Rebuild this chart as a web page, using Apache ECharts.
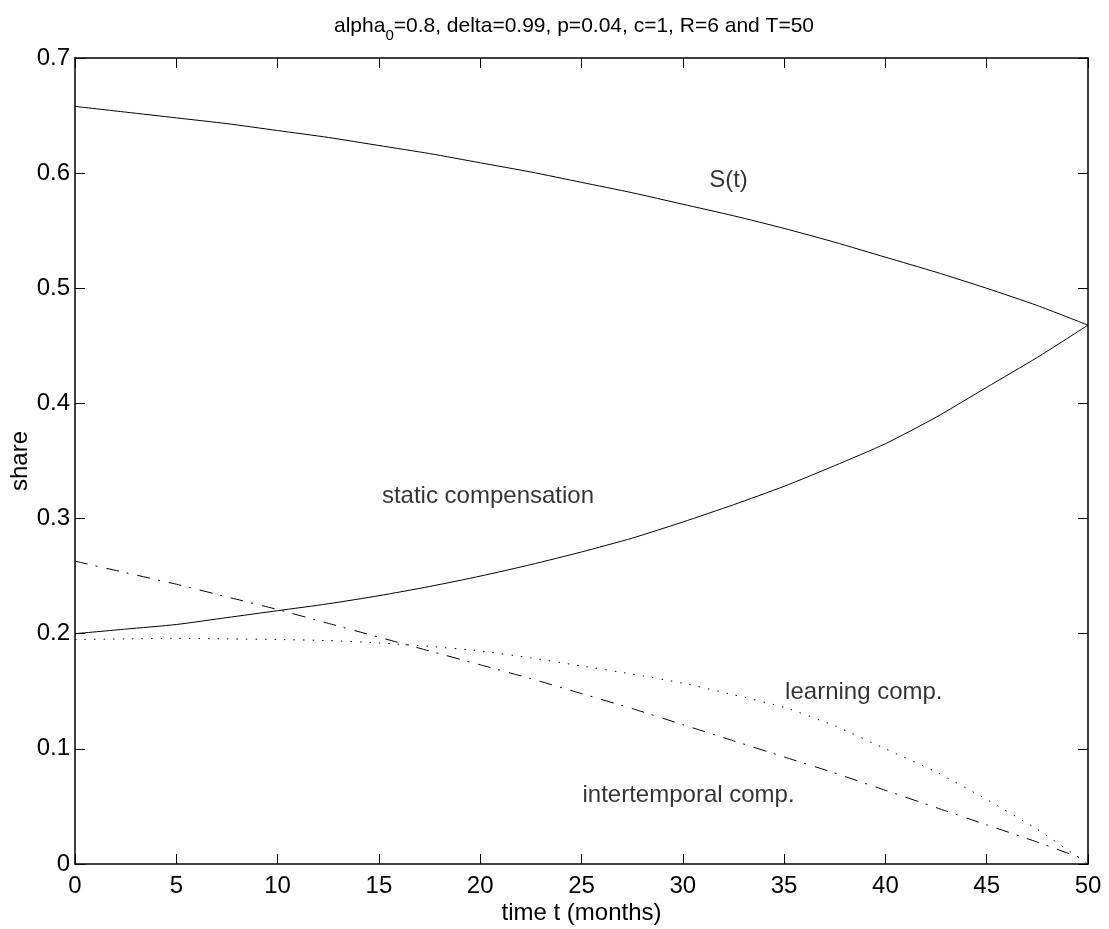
<!DOCTYPE html>
<html>
<head>
<meta charset="utf-8">
<script src="https://cdn.jsdelivr.net/npm/echarts@6/dist/echarts.min.js"></script>
<style>
html,body{margin:0;padding:0;background:#fff;}
#chart{width:1109px;height:929px;}
</style>
</head>
<body>
<div id="chart"></div>
<script>
// ---- data ----
const months = [0,2.5,5,7.5,10,12.5,15,17.5,20,22.5,25,27.5,30,32.5,35,37.5,40,42.5,45,47.5,50];
const shareS = [0.658,0.653,0.648,0.643,0.637,0.631,0.624,0.617,0.609,0.601,0.592,0.583,0.573,0.563,0.552,0.540,0.527,0.514,0.500,0.485,0.468];
const staticComp = [0.200,0.204,0.208,0.214,0.220,0.226,0.233,0.241,0.250,0.260,0.271,0.283,0.297,0.312,0.328,0.346,0.365,0.388,0.414,0.440,0.468];
const intertemporalComp = [0.263,0.253,0.243,0.232,0.221,0.209,0.197,0.185,0.173,0.161,0.148,0.135,0.121,0.107,0.093,0.079,0.064,0.049,0.034,0.019,0.003];
const learningComp = [0.195,0.1955,0.196,0.1955,0.195,0.194,0.192,0.189,0.185,0.179,0.172,0.165,0.157,0.147,0.136,0.120,0.100,0.080,0.056,0.030,0.0];

const annoTexts = ['S(t)','static compensation','learning comp.','intertemporal comp.'];
const annoX = [31.3, 15.15, 35.05, 25.05];
const annoY = [0.594, 0.319, 0.149, 0.060];

const xTicks = [0,50,5];     // min, max, interval
const yTicks = [0,0.7,0.1];  // min, max, interval

const FONT = '"Liberation Sans", Arial, Helvetica, sans-serif';

function pairs(xs, ys){ return xs.map((x,i)=>[x, ys[i]]); }

const chart = echarts.init(document.getElementById('chart'), null, {renderer:'canvas'});

const axisLineStyle = {color:'#000', width:1.5};
const tickStyle = {show:true, inside:true, length:10, lineStyle:{color:'#000', width:1}};

const option = {
  backgroundColor:'#fff',
  animation:false,
  title:{
    text:'alpha{sub|0}=0.8, delta=0.99, p=0.04, c=1, R=6 and T=50',
    left:329, top:5,
    textStyle:{
      fontFamily:FONT, fontSize:21, fontWeight:'normal', color:'#000',
      rich:{ sub:{fontFamily:FONT, fontSize:15, color:'#000', padding:[18,0,0,0]} }
    }
  },
  grid:{left:75, right:21, top:58, bottom:65, containLabel:false, outerBoundsMode:'none'},
  xAxis:[{
    type:'value', min:xTicks[0], max:xTicks[1], interval:xTicks[2],
    name:'time t (months)', nameLocation:'middle', nameGap:37, nameMoveOverlap:false,
    nameTextStyle:{fontFamily:FONT, fontSize:24, color:'#000'},
    axisLine:{show:true, onZero:false, lineStyle:axisLineStyle},
    axisTick:tickStyle,
    axisLabel:{fontFamily:FONT, fontSize:24, color:'#000', margin:10},
    splitLine:{show:false}
  },{
    type:'value', position:'top', min:xTicks[0], max:xTicks[1], interval:xTicks[2],
    axisLine:{show:true, onZero:false, lineStyle:axisLineStyle},
    axisTick:tickStyle, axisLabel:{show:false}, splitLine:{show:false}
  }],
  yAxis:[{
    type:'value', min:yTicks[0], max:yTicks[1], interval:yTicks[2],
    name:'share', nameLocation:'middle', nameGap:43, nameMoveOverlap:false,
    nameTextStyle:{fontFamily:FONT, fontSize:24, color:'#000'},
    axisLine:{show:true, onZero:false, lineStyle:axisLineStyle},
    axisTick:tickStyle,
    axisLabel:{fontFamily:FONT, fontSize:24, color:'#000', margin:5,
      formatter:v=>String(Math.round(v*10)/10)},
    splitLine:{show:false}
  },{
    type:'value', position:'right', min:yTicks[0], max:yTicks[1], interval:yTicks[2],
    axisLine:{show:true, onZero:false, lineStyle:axisLineStyle},
    axisTick:tickStyle, axisLabel:{show:false}, splitLine:{show:false}
  }],
  series:[
    {name:'S(t)', type:'line', data:pairs(months, shareS), showSymbol:false, smooth:0.2,
      lineStyle:{color:'#000', width:1}},
    {name:'static compensation', type:'line', data:pairs(months, staticComp), showSymbol:false, smooth:0.2,
      lineStyle:{color:'#000', width:1}},
    {name:'intertemporal comp.', type:'line', data:pairs(months, intertemporalComp), showSymbol:false, smooth:0.2,
      lineStyle:{color:'#000', width:1, type:[13,8,2,9]}},
    {name:'learning comp.', type:'line', data:pairs(months, learningComp), showSymbol:false, smooth:0.2,
      lineStyle:{color:'#000', width:1, type:[1.5,8]}},
    {name:'annotations', type:'scatter', symbolSize:0, silent:true,
      data:annoX.map((x,i)=>({value:[x, annoY[i]], name:annoTexts[i]})),
      label:{show:true, position:'right', distance:0, formatter:p=>p.name,
        fontFamily:FONT, fontSize:24, color:'#000'}}
  ]
};
chart.setOption(option);
</script>
</body>
</html>
